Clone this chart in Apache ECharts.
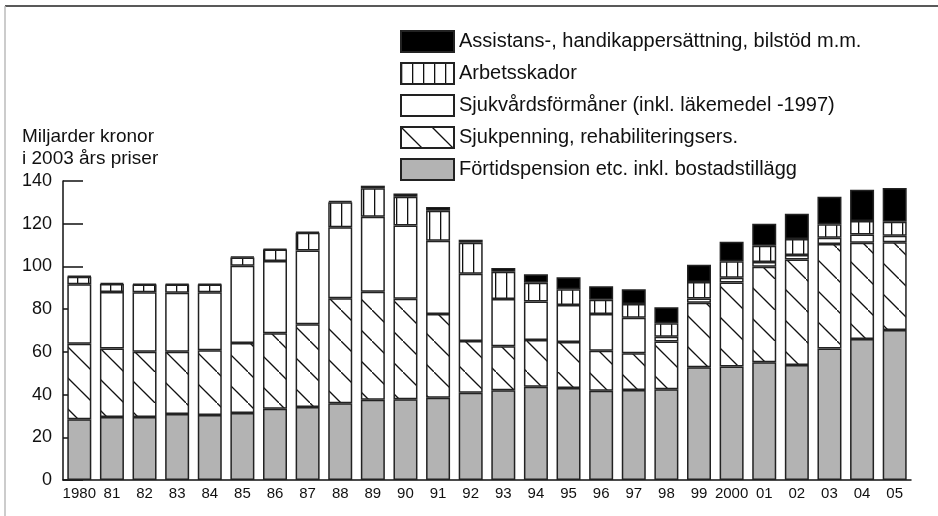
<!DOCTYPE html>
<html>
<head>
<meta charset="utf-8">
<script src="https://cdn.jsdelivr.net/npm/echarts@6/dist/echarts.min.js"></script>
<style>
  html, body { margin: 0; padding: 0; background: #fff; }
  #chart { width: 938px; height: 516px; }
</style>
</head>
<body>
<div id="chart"></div>
<script>
const years = ['1980', '81', '82', '83', '84', '85', '86', '87', '88', '89', '90', '91', '92',
  '93', '94', '95', '96', '97', '98', '99', '2000', '01', '02', '03', '04', '05']

// miljarder kronor, 2003 års priser
const fortid = [28.4, 29.5, 29.5, 30.9, 30.4, 31.4, 33.4, 34.2, 35.9, 37.6, 37.8, 38.5, 40.9,
  42.0, 43.7, 43.1, 41.8, 42.1, 42.5, 52.8, 53.2, 55.1, 53.8, 61.6, 66.0, 70.2]
const sjukpenning = [35.4, 32.1, 30.6, 29.1, 30.3, 32.7, 35.3, 38.7, 49.2, 50.6, 47.1, 39.2, 24.2,
  20.6, 21.8, 21.5, 18.7, 17.2, 22.4, 30.2, 39.3, 44.8, 49.5, 48.9, 45.1, 41.1]
const sjukvard = [27.8, 26.4, 27.8, 27.7, 27.2, 36.2, 33.8, 34.5, 33.3, 35.1, 34.3, 34.3, 31.5,
  22.1, 18.1, 17.3, 17.2, 16.7, 2.2, 2.0, 2.2, 2.2, 2.0, 2.9, 3.9, 3.1]
const arbetsskador = [3.6, 3.8, 3.6, 3.8, 3.6, 3.9, 5.4, 8.4, 11.7, 13.3, 13.4, 14.1, 14.5,
  12.8, 8.8, 7.4, 6.7, 6.4, 6.3, 7.7, 7.7, 7.6, 7.5, 6.3, 6.3, 6.5]
const assistans = [0.3, 0.5, 0.4, 0.4, 0.4, 0.4, 0.4, 0.5, 0.5, 1.2, 1.6, 1.7, 1.4,
  1.8, 3.9, 5.6, 6.3, 6.9, 7.5, 8.1, 9.2, 10.3, 11.9, 12.9, 14.6, 15.8]

const names = [
  'Assistans-, handikappersättning, bilstöd m.m.',
  'Arbetsskador',
  'Sjukvårdsförmåner (inkl. läkemedel -1997)',
  'Sjukpenning, rehabiliteringsers.',
  'Förtidspension etc. inkl. bostadstillägg'
]

// mönster för skrafferade staplar
function diagPattern() {
  const c = document.createElement('canvas')
  c.width = 31; c.height = 31
  const ctx = c.getContext('2d')
  ctx.fillStyle = '#fff'
  ctx.fillRect(0, 0, 31, 31)
  ctx.strokeStyle = '#111'
  ctx.lineWidth = 1.3
  ctx.beginPath()
  ctx.moveTo(-2, -2); ctx.lineTo(33, 33)
  ctx.stroke()
  return { image: c, repeat: 'repeat' }
}
function vertPattern() {
  const c = document.createElement('canvas')
  c.width = 11; c.height = 4
  const ctx = c.getContext('2d')
  ctx.fillStyle = '#fff'
  ctx.fillRect(0, 0, 11, 4)
  ctx.fillStyle = '#111'
  ctx.fillRect(0, 0, 1.3, 4)
  return { image: c, repeat: 'repeat' }
}

const border = { borderColor: '#222', borderWidth: 1.5 }

function bar(name, data, color) {
  return {
    name: name,
    type: 'bar',
    stack: 'total',
    barWidth: 24,
    data: data,
    itemStyle: Object.assign({ color: color }, border)
  }
}

const chart = echarts.init(document.getElementById('chart'))
chart.setOption({
  animation: false,
  textStyle: { fontFamily: 'Liberation Sans, Arial, sans-serif', color: '#111' },
  legend: {
    orient: 'vertical',
    left: 400,
    top: 30,
    padding: 0,
    icon: 'rect',
    itemWidth: 53,
    itemHeight: 21,
    itemGap: 9,
    selectedMode: false,
    data: names,
    textStyle: { fontSize: 20, color: '#111' }
  },
  grid: { left: 63, right: 27, top: 181, bottom: 36 },
  graphic: [
    { type: 'line', shape: { x1: 5, y1: 6, x2: 938, y2: 6 }, style: { stroke: '#222', lineWidth: 1.5 } },
    { type: 'line', shape: { x1: 5, y1: 6, x2: 5, y2: 516 }, style: { stroke: '#bbb', lineWidth: 1.5 } },
    {
      type: 'text', left: 22, top: 126,
      style: { text: 'Miljarder kronor\ni 2003 års priser', fontSize: 19, lineHeight: 22, fill: '#111',
        fontFamily: 'Liberation Sans, Arial, sans-serif' }
    }
  ],
  xAxis: {
    type: 'category',
    data: years,
    axisLine: { lineStyle: { color: '#111', width: 1.5 } },
    axisTick: { show: false },
    axisLabel: { fontSize: 15, color: '#111', margin: 6, interval: 0, hideOverlap: false }
  },
  yAxis: {
    type: 'value',
    min: 0,
    max: 140,
    interval: 20,
    splitLine: { show: false },
    axisLine: { show: true, lineStyle: { color: '#111', width: 1.5 } },
    axisTick: { show: true, inside: true, length: 20, lineStyle: { color: '#111', width: 1.5 } },
    axisLabel: { fontSize: 18, color: '#111', margin: 11 }
  },
  series: [
    bar(names[4], fortid, '#b3b3b3'),
    bar(names[3], sjukpenning, diagPattern()),
    bar(names[2], sjukvard, '#fff'),
    bar(names[1], arbetsskador, vertPattern()),
    bar(names[0], assistans, '#000')
  ]
})
</script>
</body>
</html>
